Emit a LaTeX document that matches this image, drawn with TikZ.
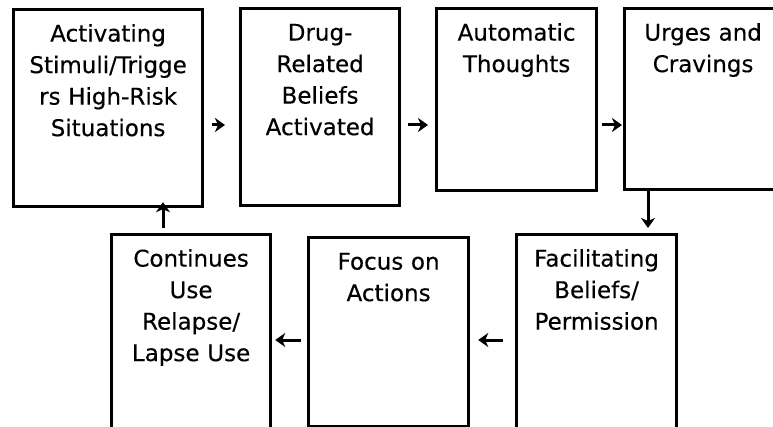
\documentclass[tikz,border=0pt]{standalone}
\usepackage{fontspec}
\setmainfont{DejaVu Sans}[UprightFeatures={FakeBold=0.35}]
\usetikzlibrary{arrows.meta}

\begin{document}
\begin{tikzpicture}[x=1pt, y=-1pt,
    stage/.style={draw, line width=3.2pt, inner sep=0pt, anchor=north west,
        align=center, text height=32pt, font=\fontsize{23}{31.5}\selectfont},
    flow/.style={line width=3pt, -{Stealth[length=10pt, width=14pt, inset=3pt]}}]

    \useasboundingbox (0, 0) rectangle (773, 427);
    \clip (0, 0) rectangle (773, 427);

        % Declare the stages
        \node[stage, text width=189pt, text depth=165pt] at (12, 8) (trigger) {Activating\\Stimuli/Trigge\\rs High-Risk\\Situations};
        \node[stage, text width=159pt, text depth=165pt] at (239, 7) (drugbelief) {Drug-\\Related\\Beliefs\\Activated};
        \node[stage, text width=160pt, text depth=150pt] at (435, 7) (autothought) {Automatic\\Thoughts};
        \node[stage, text width=157pt, text depth=149pt] at (623, 7) (craving) {Urges and\\Cravings};
        \node[stage, text width=160pt, text depth=198pt] at (515, 233) (permission) {Facilitating\\Beliefs/\\Permission};
        \node[stage, text width=160pt, text depth=157pt] at (307, 236) (action) {Focus on\\Actions};
        \node[stage, text width=159pt, text depth=198pt] at (110, 233) (relapse) {Continues\\Use\\Relapse/\\Lapse Use};

        % Declare edges
        \draw[flow, shorten <=8pt, shorten >=14pt] (trigger.east |- 0, 125) -- (drugbelief.west |- 0, 125);
        \draw[flow, shorten <=7pt, shorten >=7pt] (drugbelief.east |- 0, 125) -- (autothought.west |- 0, 125);
        \draw[flow, shorten <=4pt, shorten >=1pt] (autothought.east |- 0, 125) -- (craving.west |- 0, 125);
        \draw[flow, shorten >=5pt] (craving.south -| 648, 0) -- (permission.north -| 648, 0);
        \draw[flow, shorten <=12pt, shorten >=8pt] (permission.west |- 0, 340) -- (action.east |- 0, 340);
        \draw[flow, shorten <=6pt, shorten >=3pt] (action.west |- 0, 340) -- (relapse.east |- 0, 340);

        % Declare return edge
        \draw[flow, shorten <=5pt, shorten >=-6pt] (relapse.north -| 163, 0) -- (trigger.south -| 163, 0);

    \end{tikzpicture}
\end{document}
